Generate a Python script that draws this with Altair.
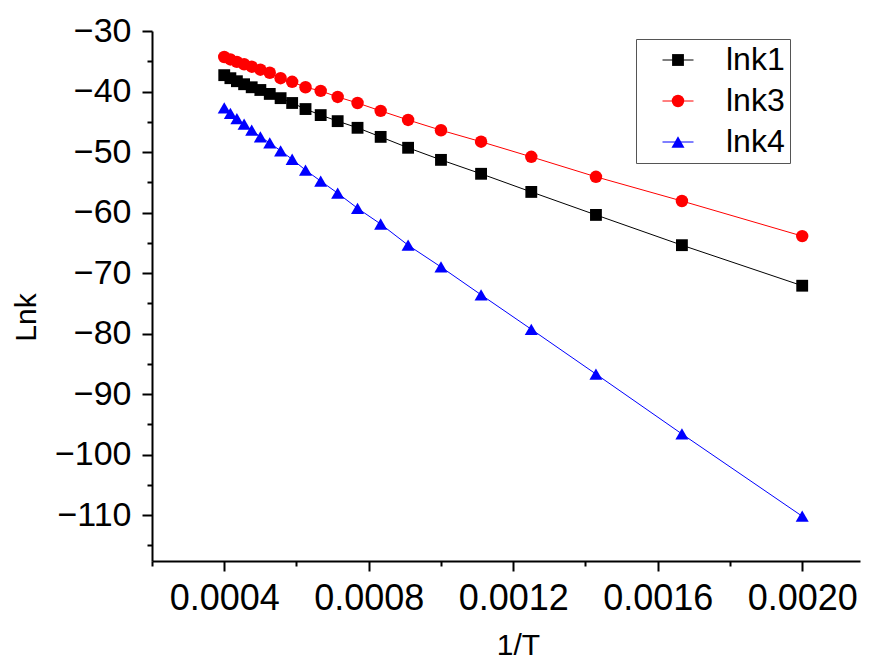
import altair as alt
import pandas as pd

# ---- data ----
inv_T = [0.0004, 0.000417, 0.000435, 0.000455, 0.000476, 0.0005, 0.000526,
         0.000556, 0.000588, 0.000625, 0.000667, 0.000714, 0.000769, 0.000833,
         0.000909, 0.001, 0.001111, 0.00125, 0.001429, 0.001667, 0.002]
lnk1 = [-37.3, -37.8, -38.3, -38.8, -39.3, -39.75, -40.4, -41.1, -41.9, -42.9,
        -43.9, -44.9, -46.0, -47.5, -49.3, -51.3, -53.6, -56.6, -60.4, -65.4, -72.1]
lnk3 = [-34.3, -34.7, -35.1, -35.5, -35.9, -36.4, -36.9, -37.8, -38.4, -39.3,
        -39.9, -40.9, -41.9, -43.2, -44.7, -46.4, -48.3, -50.8, -54.1, -58.1, -63.9]
lnk4 = [-42.7, -43.6, -44.5, -45.4, -46.4, -47.5, -48.5, -49.8, -51.2, -53.0,
        -54.8, -56.8, -59.3, -61.9, -65.4, -69.0, -73.6, -79.3, -86.7, -96.6, -110.2]

series_names = ["lnk1", "lnk3", "lnk4"]
line_names = ["L-lnk1", "L-lnk3", "L-lnk4"]   # keys for the line part of the legend
series_colors = ["#000000", "#ff0000", "#0000ff"]
point_shapes = ["square", "circle", "triangle-up"]
point_sizes = [140, 170, 240]
x_ticks = [0.0002, 0.0004, 0.0006, 0.0008, 0.0010, 0.0012, 0.0014, 0.0016, 0.0018, 0.0020]
y_ticks = [-30, -35, -40, -45, -50, -55, -60, -65, -70, -75, -80, -85, -90,
           -95, -100, -105, -110, -115]

rows = []
for name, lname, vals in zip(series_names, line_names, [lnk1, lnk3, lnk4]):
    for xv, yv in zip(inv_T, vals):
        rows.append({"x": xv, "y": yv, "series": name, "series_l": lname})
df = pd.DataFrame(rows)

FONT = "Liberation Sans"

x_enc = alt.X(
    "x:Q",
    scale=alt.Scale(domain=[0.0002, 0.00216], nice=False, zero=False),
    axis=alt.Axis(
        values=x_ticks, format=".4f",
        labelExpr="abs(round(datum.value*10000)) % 4 == 0 ? datum.label : ''",
        tickSize={"condition": {"test": "abs(round(datum.value*10000)) % 4 == 0", "value": 10}, "value": 5},
        labelPadding=10, labelFont=FONT, labelFontSize=36, labelColor="black",
        labelOverlap=False, labelFlush=False, labelBound=False,
        title="1/T", titleFont=FONT, titleFontSize=30, titleFontWeight="normal",
        titleColor="black", titleX=366, titleY=84, titleAlign="center",
        titleBaseline="middle", grid=False,
    ),
)
y_enc = alt.Y(
    "y:Q",
    scale=alt.Scale(domain=[-117.6, -30], nice=False, zero=False),
    axis=alt.Axis(
        values=y_ticks,
        labelExpr="datum.value % 10 == 0 ? datum.label : ''",
        tickSize={"condition": {"test": "datum.value % 10 == 0", "value": 10}, "value": 5},
        labelPadding=11, labelFont=FONT, labelFontSize=34, labelColor="black",
        labelOverlap=False, labelFlush=False, labelBound=False,
        title="Lnk", titleFont=FONT, titleFontSize=30, titleFontWeight="normal",
        titleColor="black", titleX=-126, titleY=286, titleAlign="center",
        titleBaseline="middle", titleAngle=270, grid=False,
    ),
)

# legend made of two overlapping legends: the line strokes and the markers (with the box)
line_legend = alt.Legend(
    title=None, orient="none", legendX=484, legendY=8,
    symbolType="stroke", symbolSize=961, symbolStrokeWidth=1, symbolOffset=21,
    labelOffset=32, labelFont=FONT, labelFontSize=32, labelExpr="''",
    rowPadding=9, padding=5,
)
marker_legend = alt.Legend(
    title=None, orient="none", legendX=484, legendY=8,
    symbolOffset=21, labelOffset=32, labelFont=FONT, labelFontSize=32,
    labelColor="black", rowPadding=9, padding=5, strokeColor="#555555",
)

lines = alt.Chart(df).mark_line(strokeWidth=1).encode(
    x=x_enc, y=y_enc,
    stroke=alt.Stroke("series_l:N", scale=alt.Scale(domain=line_names, range=series_colors),
                      legend=line_legend),
)

points = alt.Chart(df).mark_point(filled=True, opacity=1).encode(
    x=x_enc, y=y_enc,
    color=alt.Color("series:N", scale=alt.Scale(domain=series_names, range=series_colors),
                    legend=marker_legend),
    shape=alt.Shape("series:N", scale=alt.Scale(domain=series_names, range=point_shapes),
                    legend=marker_legend),
    size=alt.Size("series:N", scale=alt.Scale(domain=series_names, range=point_sizes),
                  legend=marker_legend),
)

chart = alt.layer(lines, points).properties(
    width=708, height=530,
    autosize=alt.AutoSizeParams(type="none"),
    padding={"left": 144, "top": 23, "right": 1, "bottom": 99},
).configure_view(stroke=None).configure_axis(
    domainColor="black", domainWidth=2, tickColor="black", tickWidth=2,
)

chart.save("out.html", embed_options={"renderer": "svg", "actions": False})
